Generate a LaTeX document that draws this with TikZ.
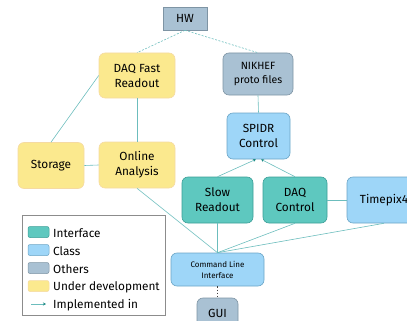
\documentclass[tikz,border=0pt]{standalone}
\usepackage{fontspec}
\setmainfont{Fira Sans}
\usepackage{xcolor}
\usetikzlibrary{arrows.meta,positioning}
\definecolor{ifacefill}{HTML}{5EC8BF}
\definecolor{ifacedraw}{HTML}{3A9E97}
\definecolor{clsfill}{HTML}{9ED6F8}
\definecolor{clsdraw}{HTML}{6BA5C6}
\definecolor{otherfill}{HTML}{A9C1D3}
\definecolor{otherdraw}{HTML}{7E94A4}
\definecolor{devfill}{HTML}{FBE98E}
\definecolor{devdraw}{HTML}{F5DAA2}
\definecolor{linkcol}{HTML}{6CBDBD}
\definecolor{tipcol}{HTML}{1F8A85}

\begin{document}
\begin{tikzpicture}[
    x=1pt, y=-1pt,
    box/.style={rectangle, rounded corners=6pt, align=center, inner sep=0,
        font=\fontsize{11.8}{15}\selectfont, line width=0.6pt},
    iface/.style={box, fill=ifacefill, draw=ifacedraw},
    cls/.style={box, fill=clsfill, draw=clsdraw},
    other/.style={box, fill=otherfill, draw=otherdraw},
    devel/.style={box, fill=devfill, draw=devdraw},
    link/.style={draw=linkcol, line width=0.6pt},
    hwlink/.style={link, dashed, dash pattern=on 2pt off 1.5pt},
    impl/.style={link, -{Stealth[length=3pt,width=3pt,color=tipcol]}},
    swatch/.style={rectangle, rounded corners=2pt, minimum width=21pt, minimum height=11pt, line width=0.5pt},
    legtext/.style={anchor=west, inner sep=0, font=\fontsize{11.8}{13}\selectfont}]
\useasboundingbox (0,0) rectangle (407,321);
\clip (0,0) rectangle (407,321);

% nodes
\node[other, rounded corners=0pt, minimum width=44pt, minimum height=23pt] (hw) at (185,18.5) {HW};
\node[devel, minimum width=76pt, minimum height=45pt] (daqfast) at (137,75.5) {DAQ Fast\\Readout};
\node[other, minimum width=70pt, minimum height=42pt, font=\fontsize{10.5}{14}\selectfont] (nikhef) at (258,74) {NIKHEF\\proto files};
\node[cls, minimum width=63pt, minimum height=46pt] (spidr) at (258.5,136) {SPIDR\\Control};
\node[devel, minimum width=66pt, minimum height=46pt] (storage) at (51,165.5) {Storage};
\node[devel, minimum width=76pt, minimum height=46pt] (online) at (137,165) {Online\\Analysis};
\node[iface, minimum width=71pt, minimum height=46pt] (slow) at (217.5,200) {Slow\\Readout};
\node[iface, minimum width=64pt, minimum height=46pt] (daqctrl) at (295,200) {DAQ\\Control};
\node[cls, minimum width=74pt, minimum height=46pt] (timepix) at (384,200) {Timepix4};
\node[cls, minimum width=93pt, minimum height=33pt, font=\fontsize{8}{11}\selectfont] (cli) at (217.5,269.5) {Command Line\\Interface};
\node[other, minimum width=41pt, minimum height=30pt] (gui) at (217.5,313) {GUI};

% connectors
\path[hwlink] (hw.south) -- (daqfast.north);
\path[hwlink] (hw.south) -- (nikhef.north);
\path[link] (daqfast.west) -- (storage.north);
\path[link] (daqfast.south) -- (online.north);
\path[link] (storage.east) -- (online.west);
\path[link] (nikhef.south) -- (spidr.north);
\path[impl] (slow.north) -- ([xshift=-2.5pt]spidr.south);
\path[impl] (daqctrl.north) -- ([xshift=2.5pt]spidr.south);
\path[link] (daqctrl.east) -- (timepix.west);
\path[link] (online.south) -- (cli.north);
\path[link] (slow.south) -- (cli.north);
\path[link] (daqctrl.south) -- (cli.north);
\path[link] (timepix.south) -- (cli.north);
\path[draw=black!75, line width=1.2pt, dotted] (cli.south) -- (gui.north);

% legend
\node[draw=black!45, line width=0.6pt, minimum width=143pt, minimum height=100pt, inner sep=0] (legend) at (93.5,265) {};
\node[swatch, fill=ifacefill, draw=ifacedraw] (sw1) at (38.5,232) {};
\node[swatch, fill=clsfill, draw=clsdraw] (sw2) at (38.5,250) {};
\node[swatch, fill=otherfill, draw=otherdraw] (sw3) at (38.5,268) {};
\node[swatch, fill=devfill, draw=devdraw] (sw4) at (38.5,286) {};
\coordinate (ar1) at (31,304);
\coordinate (ar2) at (46,304);
\path[impl] (ar1) -- (ar2);
\node[legtext] (lt1) at (53,233) {Interface};
\node[legtext] (lt2) at (53,251) {Class};
\node[legtext] (lt3) at (53,269) {Others};
\node[legtext] (lt4) at (53,287) {Under development};
\node[legtext] (lt5) at (53,305) {Implemented in};
\end{tikzpicture}
\end{document}
